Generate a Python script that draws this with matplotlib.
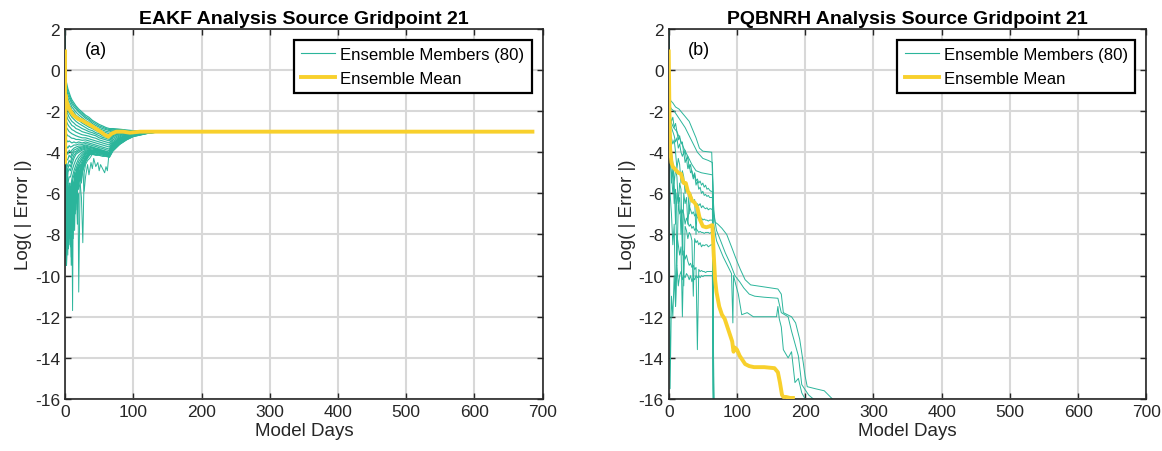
import matplotlib
matplotlib.use('Agg')
import matplotlib.pyplot as plt

plt.rcParams['font.family'] = ['Liberation Sans', 'DejaVu Sans']
plt.rcParams['axes.unicode_minus'] = False

teal = '#2BB59B'
gold = '#F8D02C'

# ---------------- panel (a): EAKF ----------------
a_days = [0, 1, 2, 4, 6, 8, 10, 13, 16, 20, 25, 30, 35, 40, 45, 50, 55, 60, 65, 70, 80, 90, 100, 120, 140, 685]
a_m01 = [2, -0.3, -0.6, -0.9, -1.1, -1.3, -1.45, -1.6, -1.75, -1.9, -2.05, -2.2, -2.3, -2.45, -2.55, -2.65, -2.72, -2.8, -2.85, -2.85, -2.88, -2.92, -2.95, -2.98, -3.0, -3.0]
a_m02 = [2, -0.6, -0.9, -1.2, -1.35, -1.5, -1.65, -1.8, -1.9, -2.05, -2.2, -2.35, -2.45, -2.6, -2.7, -2.78, -2.85, -2.9, -2.95, -2.92, -2.93, -2.95, -2.97, -2.99, -3.0, -3.0]
a_m03 = [2, -1.0, -1.3, -1.5, -1.7, -1.8, -1.95, -2.05, -2.2, -2.3, -2.45, -2.55, -2.65, -2.75, -2.85, -2.95, -3.0, -3.05, -3.1, -3.0, -2.98, -3.0, -3.0, -3.0, -3.0, -3.0]
a_m04 = [2, -1.4, -1.7, -1.9, -2.1, -2.2, -2.3, -2.4, -2.5, -2.6, -2.7, -2.8, -2.9, -2.95, -3.05, -3.1, -3.2, -3.25, -3.3, -3.15, -3.05, -3.05, -3.02, -3.0, -3.0, -3.0]
a_m05 = [2, -2.0, -2.2, -2.4, -2.5, -2.6, -2.7, -2.75, -2.85, -2.9, -3.0, -3.05, -3.1, -3.15, -3.2, -3.3, -3.35, -3.4, -3.45, -3.25, -3.1, -3.08, -3.05, -3.01, -3.0, -3.0]
a_m06 = [2, -2.6, -2.8, -2.9, -3.0, -3.05, -3.1, -3.15, -3.2, -3.25, -3.3, -3.3, -3.35, -3.4, -3.45, -3.5, -3.55, -3.6, -3.65, -3.4, -3.2, -3.1, -3.07, -3.02, -3.0, -3.0]
a_m07 = [2, -3.2, -3.4, -3.5, -3.45, -3.5, -3.55, -3.5, -3.55, -3.5, -3.55, -3.5, -3.55, -3.6, -3.65, -3.7, -3.75, -3.8, -3.85, -3.55, -3.3, -3.15, -3.1, -3.03, -3.0, -3.0]
a_m08 = [2, -3.8, -4.0, -4.1, -3.9, -4.0, -3.9, -3.8, -3.75, -3.7, -3.7, -3.65, -3.7, -3.75, -3.8, -3.85, -3.9, -3.95, -4.0, -3.6, -3.35, -3.2, -3.12, -3.04, -3.0, -3.0]
a_m09 = [2, -4.5, -4.8, -4.6, -4.4, -4.5, -4.2, -4.0, -3.95, -3.85, -3.8, -3.75, -3.8, -3.8, -3.85, -3.9, -3.95, -4.0, -4.05, -3.7, -3.4, -3.25, -3.15, -3.05, -3.0, -3.0]
a_m10 = [2, -5.2, -5.5, -5.0, -4.8, -4.9, -4.6, -4.3, -4.1, -4.0, -3.9, -3.85, -3.85, -3.9, -3.9, -3.95, -4.0, -4.05, -4.1, -3.75, -3.45, -3.3, -3.17, -3.06, -3.0, -3.0]
a_m11 = [2, -6.0, -6.5, -6.0, -5.6, -5.8, -5.3, -4.9, -4.6, -4.3, -4.1, -3.95, -3.9, -3.95, -3.95, -4.0, -4.0, -4.05, -4.1, -3.8, -3.5, -3.3, -3.18, -3.06, -3.0, -3.0]
a_m12 = [2, -7.0, -7.4, -6.6, -6.2, -6.6, -5.8, -5.4, -5.0, -4.6, -4.3, -4.05, -3.95, -4.0, -4.0, -4.05, -4.05, -4.1, -4.15, -3.85, -3.55, -3.35, -3.2, -3.07, -3.0, -3.0]
a_m13 = [2, -8.0, -8.5, -7.2, -6.8, -7.5, -6.3, -5.8, -5.5, -5.0, -4.6, -4.2, -4.0, -4.05, -4.1, -4.1, -4.1, -4.15, -4.2, -3.9, -3.6, -3.38, -3.22, -3.08, -3.0, -3.0]
a_m14 = [2, -9.0, -9.5, -8.0, -7.5, -8.6, -7.0, -6.5, -6.0, -5.5, -5.0, -4.4, -4.1, -4.1, -4.15, -4.15, -4.2, -4.2, -4.25, -3.95, -3.62, -3.4, -3.24, -3.09, -3.0, -3.0]
a_m15 = [2, -0.45, -0.75, -1.05, -1.22, -1.4, -1.55, -1.7, -1.82, -1.98, -2.12, -2.28, -2.38, -2.52, -2.62, -2.72, -2.78, -2.85, -2.9, -2.88, -2.9, -2.94, -2.96, -2.98, -3.0, -3.0]
a_m16 = [2, -0.8, -1.1, -1.35, -1.52, -1.65, -1.8, -1.92, -2.05, -2.18, -2.32, -2.45, -2.55, -2.68, -2.78, -2.86, -2.92, -2.98, -3.02, -2.96, -2.95, -2.97, -2.98, -3.0, -3.0, -3.0]
a_m17 = [2, -1.2, -1.5, -1.7, -1.9, -2.0, -2.12, -2.22, -2.35, -2.45, -2.58, -2.68, -2.78, -2.85, -2.95, -3.02, -3.1, -3.15, -3.2, -3.08, -3.02, -3.02, -3.01, -3.0, -3.0, -3.0]
a_m18 = [2, -1.7, -1.95, -2.15, -2.3, -2.4, -2.5, -2.58, -2.68, -2.75, -2.85, -2.92, -3.0, -3.05, -3.12, -3.2, -3.28, -3.32, -3.38, -3.2, -3.08, -3.06, -3.03, -3.0, -3.0, -3.0]
a_m19 = [2, -2.3, -2.5, -2.65, -2.75, -2.82, -2.9, -2.95, -3.02, -3.08, -3.15, -3.18, -3.22, -3.28, -3.32, -3.4, -3.45, -3.5, -3.55, -3.32, -3.15, -3.09, -3.06, -3.01, -3.0, -3.0]
a_m20 = [2, -2.9, -3.1, -3.2, -3.22, -3.28, -3.32, -3.33, -3.38, -3.38, -3.42, -3.4, -3.45, -3.5, -3.55, -3.6, -3.65, -3.7, -3.75, -3.48, -3.25, -3.12, -3.08, -3.02, -3.0, -3.0]
a_m21 = [2, -3.5, -3.7, -3.8, -3.68, -3.75, -3.72, -3.65, -3.65, -3.6, -3.62, -3.58, -3.62, -3.68, -3.72, -3.78, -3.82, -3.88, -3.92, -3.58, -3.32, -3.18, -3.11, -3.03, -3.0, -3.0]
a_m22 = [2, -4.2, -4.4, -4.35, -4.15, -4.25, -4.05, -3.9, -3.85, -3.78, -3.75, -3.7, -3.75, -3.78, -3.82, -3.88, -3.92, -3.98, -4.02, -3.65, -3.38, -3.22, -3.13, -3.04, -3.0, -3.0]
a_m23 = [2, -4.8, -5.1, -4.8, -4.6, -4.7, -4.4, -4.15, -4.02, -3.92, -3.85, -3.8, -3.82, -3.85, -3.88, -3.92, -3.98, -4.02, -4.08, -3.72, -3.42, -3.28, -3.16, -3.05, -3.0, -3.0]
a_m24 = [2, -5.6, -6.0, -5.5, -5.2, -5.2, -4.9, -4.6, -4.35, -4.15, -4.0, -3.9, -3.88, -3.92, -3.92, -3.98, -4.02, -4.08, -4.12, -3.78, -3.48, -3.3, -3.18, -3.06, -3.0, -3.0]
a_m25 = [2, -6.5, -7.0, -6.3, -5.9, -6.2, -5.5, -5.1, -4.8, -4.45, -4.2, -4.0, -3.92, -3.98, -3.98, -4.02, -4.05, -4.08, -4.12, -3.82, -3.52, -3.32, -3.19, -3.07, -3.0, -3.0]
a_m26 = [2, -7.5, -8.0, -6.9, -6.5, -7.0, -6.0, -5.6, -5.2, -4.8, -4.45, -4.1, -3.98, -4.02, -4.05, -4.08, -4.08, -4.12, -4.18, -3.88, -3.58, -3.36, -3.21, -3.08, -3.0, -3.0]
a_m27 = [2, -8.5, -9.0, -7.6, -7.1, -8.0, -6.6, -6.1, -5.7, -5.2, -4.8, -4.3, -4.05, -4.08, -4.12, -4.12, -4.15, -4.18, -4.22, -3.92, -3.61, -3.39, -3.23, -3.09, -3.0, -3.0]

a_spike_days = [0, 1, 2, 3, 4, 5, 6, 7, 8, 9, 10, 11, 12, 13, 14, 15, 16, 17, 18, 19, 20, 22, 24, 26, 28, 30, 33, 36, 40, 45, 50]
a_s1 = [2, -3.0, -4.5, -6.0, -5.0, -7.0, -5.5, -8.5, -6.5, -9.5, -7.0, -11.7, -6.0, -5.5, -7.0, -5.0, -5.8, -4.8, -5.2, -4.6, -4.9, -4.5, -4.4, -4.3, -4.2, -4.1, -4.05, -4.0, -3.95, -3.9, -3.85]
a_s2 = [2, -4.0, -5.5, -4.8, -6.5, -5.8, -7.5, -6.0, -6.8, -5.5, -6.2, -7.0, -6.0, -7.8, -6.2, -6.8, -5.8, -6.5, -7.5, -6.0, -10.8, -5.5, -5.0, -4.8, -4.6, -4.4, -4.2, -4.1, -4.0, -4.0, -3.9]
a_s3 = [2, -5.0, -6.5, -5.5, -7.5, -6.2, -8.0, -6.8, -7.2, -6.0, -8.8, -6.5, -7.5, -6.2, -6.8, -5.8, -6.5, -5.5, -6.0, -5.2, -5.8, -5.5, -6.2, -8.4, -5.0, -4.6, -4.4, -4.3, -4.1, -4.0, -3.95]
a_s4 = [2, -6.0, -7.5, -8.0, -6.5, -8.5, -7.0, -6.0, -7.8, -9.1, -6.5, -7.2, -8.2, -6.5, -5.8, -7.0, -6.0, -5.5, -6.2, -5.0, -5.5, -4.8, -5.2, -4.7, -4.5, -4.4, -4.25, -4.1, -4.0, -3.95, -3.9]
a_s5 = [2, -7.0, -5.5, -6.8, -8.0, -6.0, -7.2, -7.8, -5.8, -6.5, -7.5, -5.8, -6.8, -7.2, -5.5, -6.0, -6.8, -5.2, -5.6, -5.8, -5.0, -5.2, -4.8, -4.6, -4.5, -4.3, -4.2, -4.05, -4.0, -3.9, -3.9]
a_s6 = [2, -4.5, -6.2, -7.5, -9.0, -7.0, -6.2, -7.6, -8.5, -6.8, -7.4, -6.0, -7.0, -6.4, -7.8, -6.2, -5.5, -6.0, -5.4, -5.8, -5.2, -5.0, -5.3, -4.9, -4.7, -4.5, -4.3, -4.15, -4.05, -4.0, -3.95]
a_s7 = [2, -3.5, -5.0, -7.0, -5.8, -6.5, -8.2, -6.0, -7.0, -6.5, -5.5, -6.8, -5.8, -6.2, -5.5, -6.5, -5.2, -5.8, -5.0, -5.5, -4.8, -5.2, -4.6, -4.5, -4.4, -4.2, -4.1, -4.0, -3.95, -3.9, -3.85]
a_s8 = [2, -5.5, -4.8, -6.0, -7.2, -8.7, -6.5, -7.0, -6.0, -7.2, -5.8, -6.5, -5.5, -6.0, -7.0, -5.6, -6.2, -5.8, -5.0, -5.3, -5.6, -4.9, -4.7, -4.8, -4.4, -4.3, -4.15, -4.05, -4.0, -3.95, -3.9]
a_s9 = [2, -6.5, -7.0, -5.8, -6.2, -7.8, -5.8, -6.5, -7.5, -6.0, -6.6, -5.6, -6.4, -5.8, -6.0, -6.6, -5.4, -5.6, -6.4, -5.0, -5.4, -5.1, -5.5, -4.6, -4.5, -4.35, -4.2, -4.1, -4.0, -3.95, -3.9]
a_s10 = [2, -8.0, -6.5, -7.2, -5.8, -6.8, -7.8, -5.5, -6.4, -7.0, -6.0, -5.4, -6.2, -5.6, -5.0, -5.4, -6.0, -4.9, -5.2, -5.5, -4.8, -4.6, -4.9, -4.5, -4.4, -4.3, -4.2, -4.05, -4.0, -3.95, -3.9]

a_out_days = [25, 28, 30, 33, 35, 38, 40, 42, 45, 48, 50, 52, 55, 58, 60, 62, 64, 66, 70, 75, 80, 90, 100, 120, 140]
a_out_vals = [-4.4, -5.9, -5.2, -4.6, -5.1, -4.5, -4.8, -4.3, -4.7, -4.5, -4.9, -4.6, -4.8, -5.0, -4.7, -4.9, -4.2, -3.8, -3.6, -3.5, -3.4, -3.2, -3.1, -3.03, -3.0]

a_mean_days = [0, 0, 0.5, 2, 3, 5, 8, 12, 16, 20, 25, 30, 38, 45, 52, 58, 63, 68, 75, 85, 95, 110, 130, 685]
a_mean_vals = [0.9, -4.5, -1.2, -1.5, -1.6, -1.8, -2.0, -2.2, -2.3, -2.4, -2.45, -2.55, -2.7, -2.85, -3.0, -3.15, -3.25, -3.1, -3.0, -3.0, -3.05, -3.0, -3.0, -3.0]

# ---------------- panel (b): PQBNRH ----------------
b_a_days = [0, 1, 3, 6, 10, 15, 20, 25, 30, 35, 40, 45, 50, 63, 64, 66, 68, 72, 78, 85, 92, 100, 105, 112, 120, 140, 160, 165, 168, 180, 186, 192, 197, 200, 203, 215, 228, 240]
b_a_vals = [2, -1.2, -1.5, -1.6, -1.8, -1.9, -2.1, -2.3, -2.5, -2.9, -3.3, -3.8, -3.95, -4.0, -5.0, -6.8, -7.4, -7.5, -7.7, -8.0, -8.6, -9.3, -9.7, -10.2, -10.45, -10.55, -10.65, -10.9, -11.8, -12.0, -12.3, -13.1, -14.2, -14.9, -15.4, -15.5, -15.6, -16.0]
b_b_days = [0, 1, 4, 8, 12, 18, 24, 30, 36, 42, 50, 58, 64, 66, 70, 76, 83, 90, 97, 104, 110, 118, 126, 140, 160, 165, 175, 180, 190, 195, 205, 212]
b_b_vals = [2, -1.7, -1.9, -2.0, -2.2, -2.5, -2.8, -3.2, -3.6, -4.0, -4.3, -4.4, -4.5, -7.0, -7.8, -8.3, -8.9, -9.4, -10.0, -10.3, -10.6, -10.9, -11.0, -11.05, -11.1, -11.8, -12.0, -12.7, -13.9, -15.3, -15.8, -16.0]
b_c_days = [0, 1, 3, 7, 12, 17, 22, 28, 34, 40, 48, 56, 64, 66, 70, 75, 80, 86, 92, 94, 95, 98, 102, 107, 115, 124, 140, 158, 160, 162, 165, 168, 175, 180, 185, 190, 195, 200]
b_c_vals = [2, -2.3, -2.5, -2.8, -3.0, -3.4, -3.8, -4.2, -4.6, -4.9, -5.0, -5.05, -5.1, -7.5, -8.3, -8.7, -9.1, -9.5, -9.9, -12.3, -10.0, -10.4, -10.9, -11.9, -11.8, -12.0, -12.0, -12.0, -11.5, -12.1, -12.5, -13.6, -14.0, -13.7, -15.2, -15.0, -15.7, -16.0]

b_fz_days = [0, 1, 2, 4, 6, 8, 10, 12, 14, 16, 18, 20, 22, 24, 26, 28, 30, 32, 34, 36, 38, 40, 42, 44, 46, 48, 50, 52, 54, 56, 58, 60, 62, 64, 65, 66]
b_f1 = [2, -2.4, -2.6, -2.8, -3.0, -3.2, -3.5, -3.3, -3.8, -3.6, -4.0, -4.2, -4.0, -4.5, -4.3, -4.8, -4.6, -5.0, -4.9, -5.2, -5.0, -5.4, -5.3, -5.5, -5.4, -5.6, -5.5, -5.7, -5.6, -5.8, -5.75, -5.85, -5.9, -5.9, -9.0, -16.5]
b_f2 = [2, -2.8, -3.0, -3.3, -3.6, -3.4, -4.0, -4.8, -4.3, -4.6, -5.5, -4.9, -5.2, -6.0, -5.5, -5.8, -7.0, -6.0, -6.2, -6.4, -6.3, -8.0, -6.5, -6.6, -6.5, -6.7, -6.6, -6.7, -6.75, -6.7, -6.8, -6.75, -6.75, -6.8, -10.0, -16.5]
b_f3 = [2, -3.2, -3.6, -4.0, -4.5, -5.5, -4.8, -5.2, -6.5, -5.5, -5.8, -9.0, -6.0, -6.5, -6.2, -7.5, -6.6, -6.8, -7.0, -6.9, -7.1, -7.0, -7.2, -7.1, -7.3, -7.2, -7.3, -7.25, -7.3, -7.3, -7.35, -7.3, -7.3, -7.3, -12.0, -16.5]
b_f4 = [2, -3.8, -4.5, -5.0, -6.0, -5.5, -7.5, -6.0, -6.5, -6.2, -8.0, -6.8, -7.0, -7.5, -7.2, -7.4, -7.6, -7.5, -7.7, -7.6, -7.8, -7.7, -7.8, -7.9, -7.85, -7.9, -7.9, -7.95, -7.9, -7.9, -7.9, -7.95, -7.9, -7.9, -13.0, -16.5]
b_f5 = [2, -4.5, -6.0, -7.0, -8.5, -7.5, -11.5, -8.0, -8.5, -9.0, -8.6, -12.0, -8.8, -9.2, -9.0, -9.3, -9.5, -9.4, -9.6, -9.5, -9.7, -9.6, -13.6, -9.7, -9.8, -9.75, -9.8, -9.8, -9.85, -9.8, -9.8, -9.8, -9.8, -9.8, -15.5, -16.5]
b_f6 = [2, -8.0, -15.5, -11.0, -12.0, -10.0, -11.5, -9.5, -10.5, -10.0, -9.8, -10.2, -10.0, -10.1, -9.9, -10.0, -10.2, -10.0, -10.3, -10.1, -10.2, -10.0, -10.1, -10.0, -10.1, -10.0, -10.05, -10.0, -10.0, -10.0, -10.0, -10.0, -10.0, -10.0, -16.5, -16.5]
b_f7 = [2, -2.0, -2.2, -2.5, -2.3, -2.8, -2.6, -3.0, -3.4, -3.2, -3.6, -3.5, -4.1, -3.9, -4.4, -4.2, -4.8, -4.6, -5.0, -5.3, -5.1, -5.6, -5.4, -5.8, -5.7, -6.0, -5.9, -6.1, -6.05, -6.15, -6.1, -6.2, -6.2, -6.2, -8.5, -16.5]
b_f8 = [2, -3.5, -4.0, -5.5, -4.8, -6.5, -5.8, -9.5, -6.5, -7.0, -6.8, -7.5, -10.5, -7.6, -7.8, -8.2, -7.9, -8.0, -8.3, -11.0, -8.2, -8.4, -8.3, -8.5, -8.4, -8.6, -8.5, -8.55, -8.5, -8.5, -8.6, -8.55, -8.5, -8.5, -14.0, -16.5]

b_mean_days = [0, 0.5, 1, 2, 4, 6, 10, 14, 18, 20, 22, 25, 28, 30, 34, 38, 42, 46, 50, 55, 60, 63, 64, 66, 68, 70, 74, 78, 82, 86, 90, 93, 95, 97, 100, 104, 108, 112, 118, 125, 140, 155, 160, 163, 166, 168, 172, 178, 182]
b_mean_vals = [0.9, -0.5, -2.0, -3.8, -4.5, -4.7, -4.85, -5.0, -5.05, -5.3, -5.5, -5.5, -5.9, -6.0, -6.35, -6.45, -6.7, -7.3, -7.6, -7.65, -7.6, -7.55, -7.55, -9.0, -10.2, -10.8, -11.5, -11.9, -12.1, -12.5, -12.9, -13.2, -13.7, -13.5, -13.6, -13.9, -14.1, -14.3, -14.4, -14.45, -14.45, -14.5, -14.7, -15.2, -15.8, -15.9, -15.9, -15.95, -15.95]

titles = ['EAKF Analysis Source Gridpoint 21', 'PQBNRH Analysis Source Gridpoint 21']
tags = ['(a)', '(b)']

fig = plt.figure(figsize=(11.62, 4.52), dpi=100)
ax1 = fig.add_axes([0.056, 0.115, 0.411, 0.819])
ax2 = fig.add_axes([0.5755, 0.115, 0.411, 0.819])

lw_m = 0.7
a_rows = [a_m01, a_m02, a_m03, a_m04, a_m05, a_m06, a_m07, a_m08, a_m09, a_m10, a_m11, a_m12, a_m13, a_m14,
          a_m15, a_m16, a_m17, a_m18, a_m19, a_m20, a_m21, a_m22, a_m23, a_m24, a_m25, a_m26, a_m27]
for row in a_rows:
    ax1.plot(a_days, row, color=teal, lw=0.85)
for row in [a_s1, a_s2, a_s3, a_s4, a_s5, a_s6, a_s7, a_s8, a_s9, a_s10]:
    ax1.plot(a_spike_days, row, color=teal, lw=lw_m)
ax1.plot(a_out_days, a_out_vals, color=teal, lw=lw_m)
ax1.plot(a_mean_days, a_mean_vals, color=gold, lw=2.8, zorder=3)

ax2.plot(b_a_days, b_a_vals, color=teal, lw=lw_m)
ax2.plot(b_b_days, b_b_vals, color=teal, lw=lw_m)
ax2.plot(b_c_days, b_c_vals, color=teal, lw=lw_m)
for row in [b_f1, b_f2, b_f3, b_f4, b_f5, b_f6, b_f7, b_f8]:
    ax2.plot(b_fz_days, row, color=teal, lw=lw_m)
ax2.plot(b_mean_days, b_mean_vals, color=gold, lw=2.8, zorder=3)

for ax, t, tag in zip([ax1, ax2], titles, tags):
    h1, = ax.plot([], [], color=teal, lw=0.8, label='Ensemble Members (80)')
    h2, = ax.plot([], [], color=gold, lw=2.8, label='Ensemble Mean')
    ax.set_xlim(0, 700)
    ax.set_ylim(-16, 2)
    ax.set_xticks(range(0, 701, 100))
    ax.set_yticks(range(-16, 3, 2))
    ax.grid(True, color='#d8d8d8', lw=1.5)
    ax.set_axisbelow(True)
    ax.tick_params(direction='in', top=True, right=True, length=4, width=1.0,
                   labelsize=12.5, colors='#262626')
    for s in ax.spines.values():
        s.set_color('#262626')
        s.set_linewidth(1.2)
    ax.set_title(t, fontsize=14, fontweight='bold', pad=4)
    ax.set_xlabel('Model Days', fontsize=13.5, color='#262626', labelpad=2)
    ax.set_ylabel('Log( | Error |)', fontsize=13.5, color='#262626', labelpad=2)
    ax.text(45, 1.0, tag, fontsize=13, ha='center', va='center')
    leg = ax.legend(handles=[h1, h2], loc='upper right', fontsize=12.1, fancybox=False,
                    framealpha=1, edgecolor='black', borderpad=0.45, labelspacing=0.5,
                    handlelength=2.0, handletextpad=0.3, borderaxespad=0.65)
    leg.get_frame().set_linewidth(1.6)

fig.savefig('out.png', dpi=100)
